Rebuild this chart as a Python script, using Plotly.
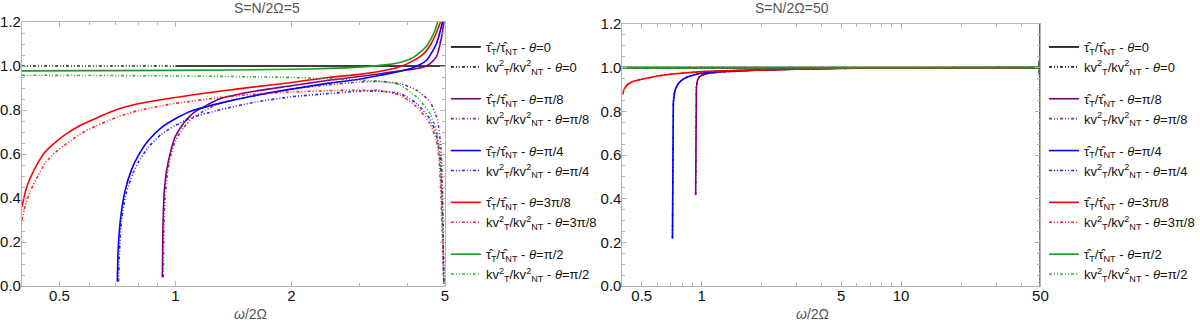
# Ratio of tau and kv^2 with/without the traditional approximation,
# for S = N/2Omega = 5 (left) and S = 50 (right), five values of theta.

import math
import plotly.graph_objects as go

THETAS = ["0", "π/8", "π/4", "3π/8", "π/2"]
COLORS = ["#000000", "#800080", "#0000ff", "#ff0000", "#1a9e1a"]

# ---------- S = 5 ----------
S5_TAU_0_X = [1.0, 2.0, 3.0, 4.0, 5.0]
S5_TAU_0_Y = [1.0, 1.0, 1.0, 1.0, 1.0]
S5_KV_0_X = [0.4, 0.6, 1.0]
S5_KV_0_Y = [1.0, 1.0, 1.0]

S5_TAU_1_X = [0.925, 0.928, 0.935, 0.95, 0.975, 1.0, 1.05, 1.11, 1.2, 1.3, 1.6, 2.0, 2.5, 3.0, 3.4, 3.8, 4.13, 4.48, 4.75, 4.9, 4.97]
S5_TAU_1_Y = [0.04, 0.25, 0.42, 0.53, 0.62, 0.68, 0.74, 0.785, 0.82, 0.85, 0.885, 0.91, 0.935, 0.952, 0.965, 0.977, 0.985, 1.0, 1.04, 1.13, 1.2]
S5_KV_1_X = [0.93, 0.933, 0.94, 0.955, 0.975, 1.0, 1.05, 1.11, 1.2, 1.3, 1.6, 2.0, 2.5, 3.0, 3.39, 3.82, 4.22, 4.57, 4.78, 4.88, 4.93, 4.97]
S5_KV_1_Y = [0.04, 0.25, 0.4, 0.52, 0.6, 0.66, 0.72, 0.765, 0.8, 0.83, 0.865, 0.895, 0.915, 0.927, 0.93, 0.92, 0.89, 0.838, 0.755, 0.633, 0.42, 0.01]

S5_TAU_2_X = [0.707, 0.71, 0.72, 0.74, 0.77, 0.8, 0.85, 0.92, 1.0, 1.1, 1.3, 1.6, 2.0, 2.5, 3.0, 3.4, 3.8, 4.13, 4.48, 4.75, 4.93]
S5_TAU_2_Y = [0.02, 0.15, 0.3, 0.43, 0.53, 0.59, 0.66, 0.72, 0.76, 0.795, 0.83, 0.865, 0.895, 0.922, 0.94, 0.958, 0.975, 0.992, 1.026, 1.1, 1.2]
S5_KV_2_X = [0.712, 0.716, 0.725, 0.745, 0.775, 0.8, 0.85, 0.92, 1.0, 1.1, 1.3, 1.6, 2.0, 2.5, 3.0, 3.4, 3.82, 4.22, 4.57, 4.75, 4.85, 4.9, 4.94, 4.97]
S5_KV_2_Y = [0.02, 0.15, 0.3, 0.42, 0.51, 0.56, 0.63, 0.69, 0.73, 0.765, 0.8, 0.835, 0.86, 0.875, 0.885, 0.885, 0.875, 0.83, 0.76, 0.69, 0.6, 0.45, 0.25, 0.0]

S5_TAU_3_X = [0.4, 0.41, 0.42, 0.44, 0.46, 0.49, 0.52, 0.56, 0.6, 0.7, 0.8, 1.0, 1.3, 1.6, 2.0, 2.5, 3.0, 3.4, 3.8, 4.1, 4.4, 4.6, 4.75, 4.87]
S5_TAU_3_Y = [0.36, 0.44, 0.49, 0.56, 0.61, 0.655, 0.69, 0.725, 0.75, 0.8, 0.828, 0.857, 0.885, 0.905, 0.925, 0.948, 0.962, 0.976, 0.995, 1.02, 1.055, 1.1, 1.15, 1.2]
S5_KV_3_X = [0.4, 0.41, 0.42, 0.44, 0.46, 0.49, 0.52, 0.56, 0.6, 0.7, 0.8, 1.0, 1.3, 1.6, 2.0, 2.5, 3.0, 3.39, 3.82, 4.22, 4.57, 4.75, 4.83, 4.88, 4.93, 4.96]
S5_KV_3_Y = [0.30, 0.38, 0.43, 0.5, 0.56, 0.61, 0.645, 0.685, 0.715, 0.765, 0.797, 0.83, 0.856, 0.872, 0.882, 0.888, 0.89, 0.888, 0.868, 0.815, 0.74, 0.664, 0.573, 0.42, 0.195, 0.014]

S5_TAU_4_X = [0.4, 1.0, 2.0, 2.5, 3.0, 3.4, 3.8, 4.13, 4.48, 4.71, 4.79]
S5_TAU_4_Y = [0.978, 0.98, 0.985, 0.989, 0.995, 1.003, 1.015, 1.038, 1.09, 1.16, 1.2]
S5_KV_4_X = [0.4, 1.0, 2.0, 2.5, 3.0, 3.4, 3.82, 4.22, 4.57, 4.75, 4.85, 4.9, 4.94, 4.97]
S5_KV_4_Y = [0.958, 0.955, 0.948, 0.942, 0.936, 0.93, 0.914, 0.86, 0.785, 0.71, 0.6, 0.45, 0.25, 0.0]

# ---------- S = 50 ----------
S50_TAU_0_X = [0.4, 1.0, 10.0, 50.0]
S50_TAU_0_Y = [1.0, 1.0, 1.0, 1.0]
S50_KV_0_X = [0.4, 1.0, 10.0, 49.9, 50.0]
S50_KV_0_Y = [1.0, 1.0, 1.0, 1.0, 0.0]

S50_TAU_1_X = [0.932, 0.933, 0.934, 0.936, 0.94, 0.95, 0.97, 1.0, 1.08, 1.25, 1.53, 2.0, 3.0, 5.0, 10.0, 30.0, 49.0, 49.9, 50.0]
S50_TAU_1_Y = [0.417, 0.6, 0.75, 0.86, 0.91, 0.94, 0.957, 0.965, 0.975, 0.98, 0.985, 0.99, 0.995, 0.998, 0.999, 1.0, 1.0, 1.05, 1.2]
S50_KV_1_X = [0.932, 0.933, 0.934, 0.936, 0.94, 0.95, 0.97, 1.0, 1.08, 1.25, 1.53, 2.0, 3.0, 5.0, 10.0, 30.0, 49.0, 49.9, 50.0]
S50_KV_1_Y = [0.417, 0.6, 0.75, 0.86, 0.91, 0.94, 0.957, 0.965, 0.975, 0.98, 0.985, 0.99, 0.995, 0.998, 0.999, 1.0, 1.0, 0.95, 0.0]

S50_TAU_2_X = [0.713, 0.714, 0.715, 0.717, 0.72, 0.73, 0.74, 0.76, 0.79, 0.85, 0.97, 1.26, 2.0, 5.0, 10.0, 30.0, 49.0, 49.9, 50.0]
S50_TAU_2_Y = [0.218, 0.45, 0.62, 0.76, 0.84, 0.885, 0.905, 0.925, 0.942, 0.958, 0.973, 0.985, 0.99, 0.998, 0.999, 1.0, 1.0, 1.05, 1.2]
S50_KV_2_X = [0.713, 0.714, 0.715, 0.717, 0.72, 0.73, 0.74, 0.76, 0.79, 0.85, 0.97, 1.26, 2.0, 5.0, 10.0, 30.0, 49.0, 49.9, 50.0]
S50_KV_2_Y = [0.218, 0.45, 0.62, 0.76, 0.84, 0.885, 0.905, 0.925, 0.942, 0.958, 0.973, 0.985, 0.99, 0.998, 0.999, 1.0, 1.0, 0.95, 0.0]

S50_TAU_3_X = [0.4, 0.405, 0.41, 0.423, 0.45, 0.5, 0.6, 0.71, 0.85, 1.0, 1.3, 1.85, 3.0, 5.0, 10.0, 30.0, 49.0, 49.9, 50.0]
S50_TAU_3_Y = [0.878, 0.893, 0.905, 0.922, 0.937, 0.947, 0.962, 0.971, 0.978, 0.982, 0.986, 0.99, 0.995, 0.998, 0.999, 1.0, 1.0, 1.05, 1.2]
S50_KV_3_X = [0.4, 0.405, 0.41, 0.423, 0.45, 0.5, 0.6, 0.71, 0.85, 1.0, 1.3, 1.85, 3.0, 5.0, 10.0, 30.0, 49.0, 49.9, 50.0]
S50_KV_3_Y = [0.878, 0.893, 0.905, 0.922, 0.937, 0.947, 0.962, 0.971, 0.978, 0.982, 0.986, 0.99, 0.995, 0.998, 0.999, 1.0, 1.0, 0.95, 0.0]

S50_TAU_4_X = [0.4, 1.0, 10.0, 49.0, 49.9, 50.0]
S50_TAU_4_Y = [1.0, 1.0, 1.0, 1.0, 1.05, 1.2]
S50_KV_4_X = [0.4, 1.0, 10.0, 49.0, 49.9, 50.0]
S50_KV_4_Y = [0.999, 0.999, 0.999, 0.999, 0.95, 0.0]

S5_TICKS = [0.5, 1, 2, 5]
S5_MINOR = [0.4, 0.6, 0.7, 0.8, 0.9, 3, 4]
S50_TICKS = [0.5, 1, 5, 10, 50]
S50_MINOR = [0.4, 0.6, 0.7, 0.8, 0.9, 2, 3, 4, 6, 7, 8, 9, 20, 30, 40]
Y_TICKS = [0.0, 0.2, 0.4, 0.6, 0.8, 1.0, 1.2]

S5 = [(S5_TAU_0_X, S5_TAU_0_Y, S5_KV_0_X, S5_KV_0_Y),
      (S5_TAU_1_X, S5_TAU_1_Y, S5_KV_1_X, S5_KV_1_Y),
      (S5_TAU_2_X, S5_TAU_2_Y, S5_KV_2_X, S5_KV_2_Y),
      (S5_TAU_3_X, S5_TAU_3_Y, S5_KV_3_X, S5_KV_3_Y),
      (S5_TAU_4_X, S5_TAU_4_Y, S5_KV_4_X, S5_KV_4_Y)]
S50 = [(S50_TAU_0_X, S50_TAU_0_Y, S50_KV_0_X, S50_KV_0_Y),
       (S50_TAU_1_X, S50_TAU_1_Y, S50_KV_1_X, S50_KV_1_Y),
       (S50_TAU_2_X, S50_TAU_2_Y, S50_KV_2_X, S50_KV_2_Y),
       (S50_TAU_3_X, S50_TAU_3_Y, S50_KV_3_X, S50_KV_3_Y),
       (S50_TAU_4_X, S50_TAU_4_Y, S50_KV_4_X, S50_KV_4_Y)]

W, H = 1200, 322
FONT = "Liberation Sans, Arial, sans-serif"
FRAME = "#b5b5b5"
DOTDASH = "3px,2px,1px,2px,1px,2px"

fig = go.Figure()


def add_panel(data, xa, ya, legend, shape):
    for i, (tx, ty, kx, ky) in enumerate(data):
        th = THETAS[i]
        grp = legend + str(i)
        fig.add_trace(go.Scatter(
            x=tx, y=ty, mode="lines", xaxis=xa, yaxis=ya, legend=legend, legendgroup=grp,
            line=dict(color=COLORS[i], width=1.6, shape=shape, smoothing=0.6),
            name="τ̂<sub>T</sub>/τ̂<sub>NT</sub> - <i>θ</i>=" + th))
        fig.add_trace(go.Scatter(
            x=kx, y=ky, mode="lines", xaxis=xa, yaxis=ya, legend=legend, legendgroup=grp,
            line=dict(color=COLORS[i], width=1.6, dash=DOTDASH, shape=shape, smoothing=0.6),
            opacity=0.85,
            name="kv<sup>2</sup><sub>T</sub>/kv<sup>2</sup><sub>NT</sub> - <i>θ</i>=" + th))


add_panel(S5, "x", "y", "legend", "spline")
add_panel(S50, "x2", "y2", "legend2", "linear")


def px_x(p):
    return p / W


def px_y(p):
    return 1 - p / H


axis_common = dict(showline=True, linecolor=FRAME, linewidth=1, mirror="ticks",
                   ticks="inside", ticklen=5, tickcolor=FRAME, showgrid=False,
                   zeroline=False, automargin=False,
                   tickfont=dict(family=FONT, size=15, color="#111111"))
xaxis_common = dict(type="log", ticklabelstandoff=-4, **axis_common)
yaxis_common = dict(range=[0, 1.2], tickvals=Y_TICKS, tickformat=".1f",
                    ticklabelstandoff=-3,
                    minor=dict(dtick=0.05, ticklen=3, tickcolor=FRAME, ticks="inside"),
                    **axis_common)

legend_common = dict(xanchor="left", yanchor="top",
                     font=dict(family=FONT, size=13, color="#111111"),
                     bgcolor="rgba(0,0,0,0)", itemwidth=30, tracegroupgap=12)

fig.update_layout(
    width=W, height=H,
    margin=dict(l=0, r=0, t=0, b=0),
    paper_bgcolor="white", plot_bgcolor="white",
    font=dict(family=FONT, color="#111111"),
    xaxis=dict(domain=[px_x(22), px_x(446)],
               range=[math.log10(0.4), math.log10(5)],
               anchor="y", tickvals=S5_TICKS, ticktext=[str(t) for t in S5_TICKS],
               minor=dict(tickvals=S5_MINOR, ticklen=3, tickcolor=FRAME, ticks="inside"),
               **xaxis_common),
    yaxis=dict(domain=[px_y(286), px_y(22)], anchor="x", **yaxis_common),
    xaxis2=dict(domain=[px_x(624), px_x(1043)],
                range=[math.log10(0.4), math.log10(50)],
                anchor="y2", tickvals=S50_TICKS, ticktext=[str(t) for t in S50_TICKS],
                minor=dict(tickvals=S50_MINOR, ticklen=3, tickcolor=FRAME, ticks="inside"),
                **xaxis_common),
    yaxis2=dict(domain=[px_y(286), px_y(24)], anchor="x2", **yaxis_common),
    legend=dict(x=px_x(447), y=px_y(32), **legend_common),
    legend2=dict(x=px_x(1047), y=px_y(32), **legend_common),
    showlegend=True,
)

# panel titles and axis labels
for cx, title in [(233, "S=N/2Ω=5"), (833, "S=N/2Ω=50")]:
    fig.add_annotation(x=px_x(cx), y=px_y(8), xref="paper", yref="paper",
                       yanchor="middle", text=title, showarrow=False,
                       font=dict(family=FONT, size=14, color="#555555"))
    fig.add_annotation(x=px_x(cx), y=px_y(314), xref="paper", yref="paper",
                       yanchor="middle", text="<i>ω</i>/2Ω", showarrow=False,
                       font=dict(family=FONT, size=14, color="#555555"))

# the page body has a default 8px margin; remove it so the figure fills the window
fig.write_html("out.html", config={"displayModeBar": False},
               post_script="document.body.style.margin='0';")
